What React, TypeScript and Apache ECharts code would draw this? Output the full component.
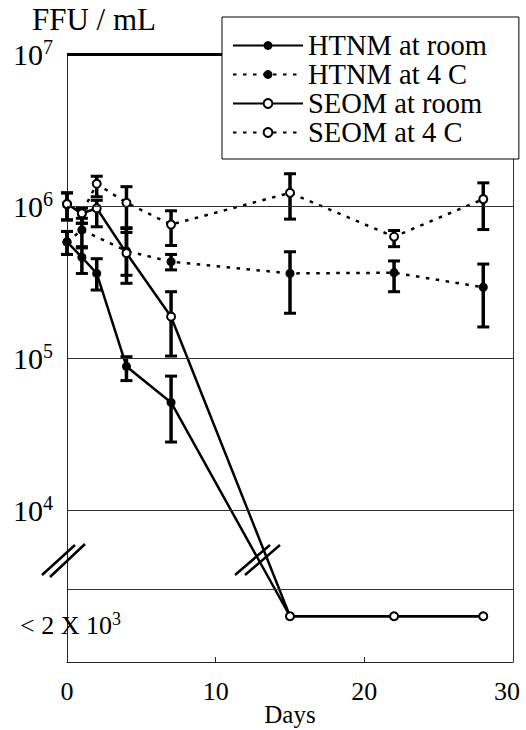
import React, { useEffect, useRef } from 'react';
import * as echarts from 'echarts';

// Sampling days
const days = [0, 1, 2, 4, 7, 15, 22, 28];

// FFU / mL (null = not plotted). "< 2 X 10^3" values are plotted at 2000.
const htnmRoom = [5.8e5, 4.6e5, 3.6e5, 8.8e4, 5.1e4, 2e3, 2e3, 2e3];
const htnmRoomLow = [4.8e5, 3.6e5, 2.8e5, 7.1e4, 2.8e4, null, null, null];
const htnmRoomHigh = [6.8e5, 5.3e5, 4.5e5, 1.02e5, 7.6e4, null, null, null];

const htnm4C = [5.8e5, 6.95e5, null, 5.06e5, 4.3e5, 3.6e5, 3.64e5, 2.92e5];
const htnm4CLow = [4.8e5, 5.4e5, null, 3.5e5, 3.8e5, 1.97e5, 2.73e5, 1.6e5];
const htnm4CHigh = [6.8e5, 8.3e5, null, 6.7e5, 4.8e5, 5.0e5, 4.35e5, 4.15e5];

const seomRoom = [1.03e6, 8.95e5, 9.66e5, 4.9e5, 1.87e5, 2e3, 2e3, 2e3];
const seomRoomLow = [8.1e5, 7.7e5, 7.3e5, 3.1e5, 1.03e5, null, null, null];
const seomRoomHigh = [1.22e6, 9.7e5, 1.09e6, 7.2e5, 2.73e5, null, null, null];

const seom4C = [1.03e6, 8.95e5, 1.4e6, 1.05e6, 7.55e5, 1.22e6, 6.28e5, 1.11e6];
const seom4CLow = [8.1e5, 7.7e5, 1.15e6, 7.1e5, 5.5e5, 8.2e5, 5.4e5, 7.0e5];
const seom4CHigh = [1.22e6, 9.7e5, 1.57e6, 1.34e6, 9.3e5, 1.63e6, 6.9e5, 1.42e6];

const seriesNames = ['HTNM at room', 'HTNM at 4 C', 'SEOM at room', 'SEOM at 4 C'];

// Axis settings
const yMin = 1e3;
const yMax = 1e7;
const gridValues = [1e4, 1e5, 1e6, 3e3];
const xTicks = [0, 10, 20, 30];
const lowLabelBase = '< 2 X 10';
const lowLabelExp = '3';

const FONT = 'Liberation Serif, serif';

function pairs(vals: (number | null)[]) {
  return days.map((d, i) => [d, vals[i]]).filter((p) => p[1] !== null);
}
function errPairs(lo: (number | null)[], hi: (number | null)[]) {
  return days
    .map((d, i) => [d, lo[i], hi[i]])
    .filter((p) => p[1] !== null && p[2] !== null);
}

export default function App() {
  const ref = useRef<HTMLDivElement>(null);
  useEffect(() => {
    if (!ref.current) return;
    document.body.style.margin = '0';
    const chart = echarts.init(ref.current, undefined, { renderer: 'svg' });

    const errRender = (params: any, api: any) => {
      const x = api.value(0);
      const lo = api.value(1);
      const hi = api.value(2);
      const pl = api.coord([x, lo]);
      const ph = api.coord([x, hi]);
      const hw = 6;
      const st = { stroke: '#000', lineWidth: 3.5 };
      return {
        type: 'group',
        children: [
          { type: 'line', shape: { x1: pl[0], y1: pl[1], x2: ph[0], y2: ph[1] }, style: st },
          { type: 'line', shape: { x1: ph[0] - hw, y1: ph[1], x2: ph[0] + hw, y2: ph[1] }, style: { stroke: '#000', lineWidth: 3 } },
          { type: 'line', shape: { x1: pl[0] - hw, y1: pl[1], x2: pl[0] + hw, y2: pl[1] }, style: { stroke: '#000', lineWidth: 3 } },
        ],
      };
    };

    const errSeries = (lo: any, hi: any) => ({
      type: 'custom',
      renderItem: errRender,
      data: errPairs(lo, hi),
      encode: { x: 0, y: [1, 2] },
      z: 1,
      silent: true,
    });

    const dotted = [3.5, 6.5];

    const option: any = {
      animation: false,
      title: {
        text: 'FFU / mL',
        left: 32,
        top: 4,
        padding: 0,
        textStyle: { fontFamily: FONT, fontSize: 31, fontWeight: 'normal', color: '#000' },
      },
      grid: { left: 67, right: 13, top: 54, bottom: 68, containLabel: false, outerBoundsMode: 'none' },
      legend: {
        data: seriesNames,
        orient: 'vertical',
        left: 222,
        top: 17,
        padding: [14, 32, 12, 10],
        itemWidth: 70,
        itemHeight: 11,
        itemGap: 0,
        itemTextGap: 2,
        backgroundColor: '#fff',
        borderColor: '#000',
        borderWidth: 1,
        borderRadius: 0,
        z: 10,
        textStyle: { fontFamily: FONT, fontSize: 28.5, color: '#000' },
      },
      xAxis: {
        type: 'value',
        min: 0,
        max: 30,
        interval: 10,
        name: 'Days',
        nameLocation: 'middle',
        nameGap: 40,
        nameMoveOverlap: false,
        nameTextStyle: { fontFamily: FONT, fontSize: 25, lineHeight: 25, color: '#000' },
        axisLine: { lineStyle: { color: '#222', width: 1 } },
        axisTick: { inside: true, length: 5, lineStyle: { color: '#222' } },
        splitLine: { show: false },
        axisLabel: {
          fontFamily: FONT,
          fontSize: 26,
          color: '#000',
          margin: 16,
          formatter: (v: number) => {
            if (!xTicks.includes(v)) return '';
            return v === 30 ? `{r|${v}}` : String(v);
          },
          rich: {
            r: { fontFamily: FONT, fontSize: 26, color: '#000', padding: [0, 12, 0, 0] },
          },
        },
      },
      yAxis: {
        type: 'log',
        logBase: 10,
        min: yMin,
        max: yMax,
        axisLine: { show: true, lineStyle: { color: '#222', width: 1 } },
        axisTick: { show: false },
        splitLine: { show: false },
        axisLabel: {
          margin: 14,
          color: '#000',
          formatter: (v: number) => {
            const e = Math.round(Math.log10(v));
            if (e <= 3) return '';
            return `{b|10}{s|${e}}`;
          },
          rich: {
            b: { fontFamily: FONT, fontSize: 30, lineHeight: 30, verticalAlign: 'bottom', color: '#000' },
            s: { fontFamily: FONT, fontSize: 20, lineHeight: 20, verticalAlign: 'bottom', padding: [0, 0, 12, 0], color: '#000' },
          },
        },
      },
      graphic: [
        { type: 'line', shape: { x1: 42, y1: 575, x2: 75, y2: 545 }, style: { stroke: '#000', lineWidth: 2.5 }, z: 20 },
        { type: 'line', shape: { x1: 50, y1: 577, x2: 85, y2: 544 }, style: { stroke: '#000', lineWidth: 2.5 }, z: 20 },
        { type: 'line', shape: { x1: 235, y1: 575, x2: 270, y2: 545 }, style: { stroke: '#000', lineWidth: 2.5 }, z: 20 },
        { type: 'line', shape: { x1: 245, y1: 575, x2: 280, y2: 545 }, style: { stroke: '#000', lineWidth: 2.5 }, z: 20 },
        {
          type: 'text',
          x: 20,
          y: 638,
          z: 20,
          style: {
            text: `{a|${lowLabelBase}}{s|${lowLabelExp}}`,
            verticalAlign: 'bottom',
            rich: {
              a: { fontFamily: FONT, fontSize: 26, lineHeight: 26, verticalAlign: 'bottom', fill: '#000' },
              s: { fontFamily: FONT, fontSize: 18, lineHeight: 18, verticalAlign: 'bottom', padding: [0, 0, 10, 0], fill: '#000' },
            },
          },
        },
      ],
      series: [
        {
          type: 'line',
          name: '__grid',
          data: [],
          silent: true,
          markLine: {
            silent: true,
            symbol: 'none',
            label: { show: false },
            lineStyle: { color: '#333', width: 1, type: 'solid' },
            data: [
              ...gridValues.map((v) => ({ yAxis: v })),
              { yAxis: yMax, lineStyle: { color: '#000', width: 3, type: 'solid' } },
              { xAxis: 30 },
            ],
          },
        },
        errSeries(htnmRoomLow, htnmRoomHigh),
        errSeries(htnm4CLow, htnm4CHigh),
        errSeries(seomRoomLow, seomRoomHigh),
        errSeries(seom4CLow, seom4CHigh),
        {
          type: 'line',
          name: seriesNames[0],
          data: pairs(htnmRoom),
          symbol: 'circle',
          symbolSize: 9,
          itemStyle: { color: '#000' },
          lineStyle: { color: '#000', width: 2.5, type: 'solid' },
          z: 3,
        },
        {
          type: 'line',
          name: seriesNames[1],
          data: pairs(htnm4C),
          symbol: 'circle',
          symbolSize: 9,
          itemStyle: { color: '#000' },
          lineStyle: { color: '#000', width: 2.5, type: dotted },
          z: 3,
        },
        {
          type: 'line',
          name: seriesNames[2],
          data: pairs(seomRoom),
          symbol: 'emptyCircle',
          symbolSize: 8,
          itemStyle: { color: '#000', borderWidth: 2.5 },
          lineStyle: { color: '#000', width: 2.5, type: 'solid' },
          z: 4,
        },
        {
          type: 'line',
          name: seriesNames[3],
          data: pairs(seom4C),
          symbol: 'emptyCircle',
          symbolSize: 8,
          itemStyle: { color: '#000', borderWidth: 2.5 },
          lineStyle: { color: '#000', width: 2.5, type: dotted },
          z: 4,
        },
      ],
    };
    chart.setOption(option);
    return () => chart.dispose();
  }, []);
  return <div ref={ref} style={{ width: 526, height: 730 }} />;
}
